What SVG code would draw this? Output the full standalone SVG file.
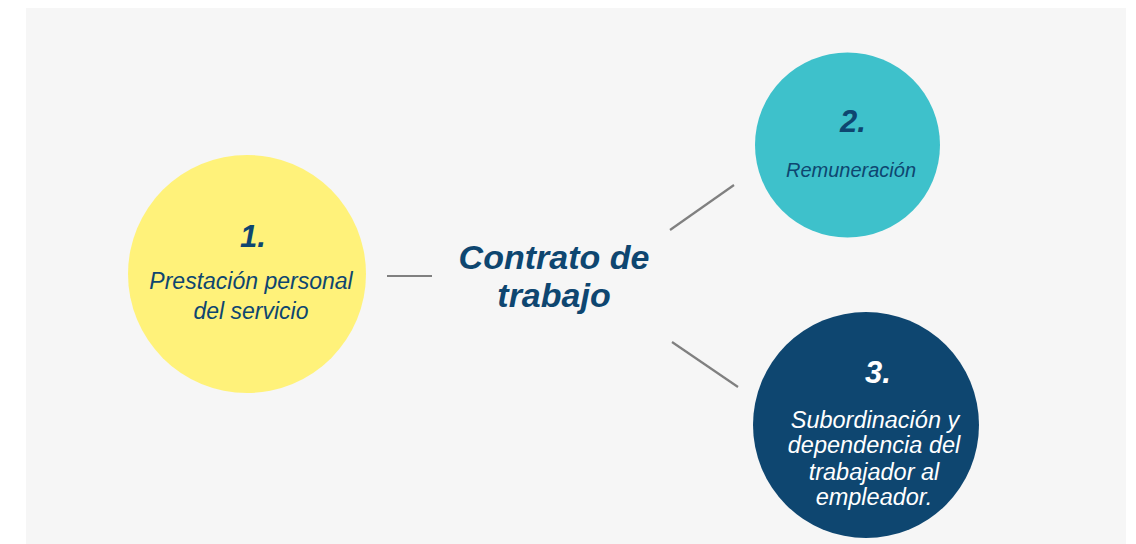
<svg xmlns="http://www.w3.org/2000/svg" width="1136" height="544" viewBox="0 0 1136 544">
<style>
.t{font-family:"Liberation Sans",Arial,sans-serif;font-style:italic;text-anchor:middle}
.num{font-weight:bold;font-size:31px}
.body{font-size:23px}
.navy{fill:#0E4670}
.white{fill:#FFFFFF}
.conn{stroke:#808080;stroke-width:2.2;fill:none}
</style>
<rect x="26" y="8" width="1100" height="536" fill="#F6F6F6"/>
<g id="connectors">
<line class="conn" x1="387" y1="276" x2="432" y2="276"/>
<line class="conn" x1="670" y1="230" x2="734" y2="185"/>
<line class="conn" x1="672" y1="342" x2="738" y2="387"/>
</g>
<g id="center">
<text class="t navy" x="554" y="269" font-size="34" font-weight="bold">Contrato de</text>
<text class="t navy" x="554" y="307" font-size="34" font-weight="bold">trabajo</text>
</g>
<g id="node1">
<circle cx="247" cy="274" r="119" fill="#FFF27A"/>
<text class="t navy num" x="253" y="247">1.</text>
<text class="t navy body" x="251" y="289">Prestación personal</text>
<text class="t navy body" x="251" y="319">del servicio</text>
</g>
<g id="node2">
<circle cx="847.5" cy="145" r="92.5" fill="#3EC1CB"/>
<text class="t navy num" x="853" y="132">2.</text>
<text class="t navy" x="851" y="177" font-size="20">Remuneración</text>
</g>
<g id="node3">
<circle cx="866" cy="425" r="113" fill="#0E4670"/>
<text class="t white num" x="878" y="383">3.</text>
<text class="t white" x="875" y="428" font-size="23.5">Subordinación y</text>
<text class="t white" x="874" y="453" font-size="23.5">dependencia del</text>
<text class="t white" x="874" y="480" font-size="23.5">trabajador al</text>
<text class="t white" x="874" y="505" font-size="23.5">empleador.</text>
</g>
</svg>
